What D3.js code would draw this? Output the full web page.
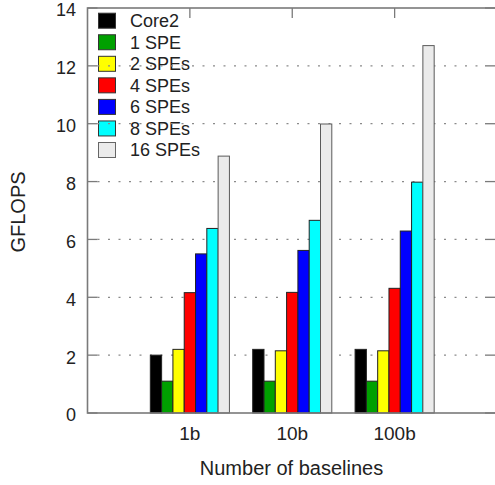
<!DOCTYPE html>
<html>
<head>
<meta charset="utf-8">
<script src="https://cdn.jsdelivr.net/npm/d3@7"></script>
<style>
  body { margin: 0; background: white; }
  text { font-family: "Liberation Sans", Arial, sans-serif; fill: #222; }
</style>
</head>
<body>
<script>
// chart data
const categories = ["1b", "10b", "100b"];
const seriesNames = ["Core2", "1 SPE", "2 SPEs", "4 SPEs", "6 SPEs", "8 SPEs", "16 SPEs"];
const seriesColors = ["#000000", "#00a000", "#ffff00", "#ff0000", "#0000ff", "#00ffff", "#ebebeb"];
const core2 = [2.0, 2.2, 2.2];
const spe1 = [1.1, 1.1, 1.1];
const spe2 = [2.2, 2.15, 2.15];
const spe4 = [4.16, 4.17, 4.31];
const spe6 = [5.5, 5.62, 6.29];
const spe8 = [6.38, 6.66, 7.98];
const spe16 = [8.88, 9.99, 12.7];
const yTicks = [0, 2, 4, 6, 8, 10, 12, 14];

const series = [core2, spe1, spe2, spe4, spe6, spe8, spe16];

const width = 495, height = 485;
const margin = {top: 8, right: -2, bottom: 72, left: 87.5};
const plotRight = width - margin.right;
const plotBottom = height - margin.bottom;
const frameColor = "#7a7a7a";
const fontSize = 18;

const svg = d3.select("body").append("svg")
  .attr("width", width)
  .attr("height", height);

const x = d3.scalePoint()
  .domain(categories)
  .range([margin.left, plotRight])
  .padding(1);

const y = d3.scaleLinear()
  .domain([0, 14])
  .range([plotBottom, margin.top]);

const barWidth = 11.3;

// legend (grid lines pass over its text, so draw it first)
const legend = svg.append("g");
seriesNames.forEach((name, i) => {
  const cy = 20.7 + i * 21.55;
  legend.append("rect")
    .attr("x", 98.5)
    .attr("y", cy - 7.5)
    .attr("width", 17)
    .attr("height", 15)
    .style("fill", seriesColors[i])
    .style("stroke", i === 6 ? "#666" : "#333")
    .style("stroke-width", 1);
  legend.append("text")
    .attr("x", 130)
    .attr("y", cy)
    .attr("dy", "0.36em")
    .style("font-size", fontSize + "px")
    .text(name);
});

// dotted grid lines
svg.selectAll(".grid")
  .data(yTicks.filter(d => d > 0 && d < 14))
  .enter().append("line")
    .attr("x1", margin.left + 10)
    .attr("x2", plotRight - 12)
    .attr("y1", d => y(d))
    .attr("y2", d => y(d))
    .style("stroke", "#8a8a8a")
    .style("stroke-width", 1.2)
    .style("stroke-dasharray", "2,8.5");

// tick marks on all four sides
yTicks.forEach(t => {
  svg.append("line")
    .attr("x1", margin.left).attr("x2", margin.left + 10)
    .attr("y1", y(t)).attr("y2", y(t))
    .style("stroke", frameColor).style("stroke-width", 1.3);
  svg.append("line")
    .attr("x1", plotRight - 12).attr("x2", plotRight)
    .attr("y1", y(t)).attr("y2", y(t))
    .style("stroke", frameColor).style("stroke-width", 1.3);
});
categories.forEach(c => {
  svg.append("line")
    .attr("x1", x(c)).attr("x2", x(c))
    .attr("y1", margin.top).attr("y2", margin.top + 10)
    .style("stroke", frameColor).style("stroke-width", 1.3);
  svg.append("line")
    .attr("x1", x(c)).attr("x2", x(c))
    .attr("y1", plotBottom).attr("y2", plotBottom - 10)
    .style("stroke", frameColor).style("stroke-width", 1.3);
});

// bars
series.forEach((vals, i) => {
  svg.selectAll(".bar" + i)
    .data(vals)
    .enter().append("rect")
      .attr("x", (d, j) => x(categories[j]) + (i - 3.5) * barWidth)
      .attr("y", d => y(d))
      .attr("width", barWidth)
      .attr("height", d => y(0) - y(d))
      .style("fill", seriesColors[i])
      .style("stroke", i === 6 ? "#5a5a5a" : "#222")
      .style("stroke-width", 1);
});

// frame
svg.append("rect")
  .attr("x", margin.left)
  .attr("y", margin.top)
  .attr("width", plotRight - margin.left)
  .attr("height", plotBottom - margin.top)
  .style("fill", "none")
  .style("stroke", frameColor)
  .style("stroke-width", 1.6);

// y tick labels
svg.selectAll(".ylab")
  .data(yTicks)
  .enter().append("text")
    .attr("x", 76)
    .attr("y", d => y(d) + 2)
    .attr("dy", "0.36em")
    .attr("text-anchor", "end")
    .style("font-size", fontSize + "px")
    .text(d => d);

// x tick labels
svg.selectAll(".xlab")
  .data(categories)
  .enter().append("text")
    .attr("x", d => x(d))
    .attr("y", 440)
    .attr("text-anchor", "middle")
    .style("font-size", "19px")
    .text(d => d);

// axis titles
svg.append("text")
  .attr("x", 291.5)
  .attr("y", 475)
  .attr("text-anchor", "middle")
  .style("font-size", "20px")
  .text("Number of baselines");

svg.append("text")
  .attr("transform", "translate(25,212) rotate(-90)")
  .attr("text-anchor", "middle")
  .style("font-size", "20px")
  .text("GFLOPS");
</script>
</body>
</html>
